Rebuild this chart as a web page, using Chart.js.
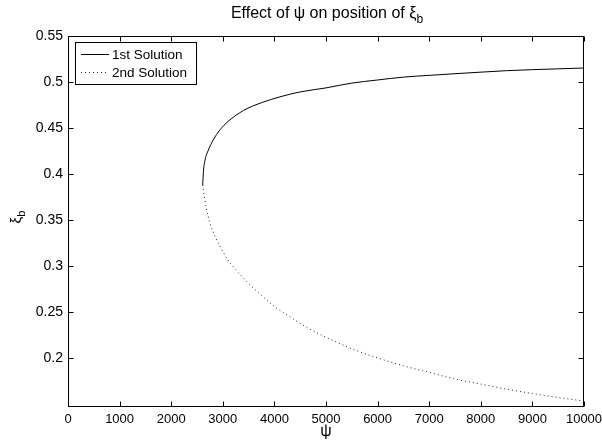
<!DOCTYPE html>
<html>
<head>
<meta charset="utf-8">
<script src="https://cdn.jsdelivr.net/npm/chart.js@4/dist/chart.umd.min.js"></script>
<style>
  body { margin: 0; background: #fff; }
  #wrap { width: 602px; height: 442px; }
</style>
</head>
<body>
<div id="wrap"><canvas id="xiChart" width="602" height="442"></canvas></div>
<script>
// values
const psiFirst = [2610, 2625, 2655, 2720, 2815, 2945, 3100, 3400, 3750, 4150, 4500, 5000, 5500, 6000, 6500, 7000, 7500, 8000, 8500, 9000, 9500, 10000];
const xiFirst = [0.388, 0.403, 0.415, 0.426, 0.437, 0.448, 0.457, 0.469, 0.4775, 0.4845, 0.4892, 0.4936, 0.4988, 0.5022, 0.5053, 0.5072, 0.509, 0.5107, 0.5123, 0.5134, 0.5143, 0.5152];
const psiSecond = [2610, 2623, 2675, 2750, 2860, 2980, 3100, 3250, 3500, 3750, 4000, 4350, 4650, 5000, 5500, 6000, 6500, 7000, 7500, 8000, 8500, 9000, 9500, 10000];
const xiSecond = [0.388, 0.383, 0.3645, 0.347, 0.331, 0.318, 0.3065, 0.296, 0.281, 0.268, 0.256, 0.243, 0.2325, 0.2225, 0.21, 0.2, 0.1915, 0.1843, 0.1771, 0.1716, 0.1661, 0.1613, 0.157, 0.1532];
const xTicks = [0, 1000, 2000, 3000, 4000, 5000, 6000, 7000, 8000, 9000, 10000];
const yTicks = [0.2, 0.25, 0.3, 0.35, 0.4, 0.45, 0.5, 0.55];
const seriesNames = ["1st Solution", "2nd Solution"];

const FONT = "'Liberation Sans', Arial, Helvetica, sans-serif";

function toPoints(xs, ys) {
  return xs.map(function (x, i) { return { x: x, y: ys[i] }; });
}

// text with a subscript tail, centred on x
function drawSub(ctx, main, sub, x, y, size, drop) {
  ctx.font = size + "px " + FONT;
  const w1 = ctx.measureText(main).width;
  ctx.font = Math.round(size * 0.72) + "px " + FONT;
  const w2 = ctx.measureText(sub).width;
  const left = x - (w1 + w2) / 2;
  ctx.textAlign = "left";
  ctx.font = size + "px " + FONT;
  ctx.fillText(main, left, y);
  ctx.font = Math.round(size * 0.72) + "px " + FONT;
  ctx.fillText(sub, left + w1, y + drop);
}

const matlabLook = {
  id: "matlabLook",
  afterDraw: function (chart) {
    const ctx = chart.ctx;
    const a = chart.chartArea;
    const xs = chart.scales.x, ys = chart.scales.y;
    const L = Math.round(a.left) + 0.5, R = Math.round(a.right) - 0.5;
    const T = Math.round(a.top) + 0.5, B = Math.round(a.bottom) - 0.5;
    ctx.save();
    ctx.strokeStyle = "#000";
    ctx.lineWidth = 1;
    ctx.strokeRect(L, T, R - L, B - T);
    // inward ticks on all sides
    ctx.beginPath();
    xTicks.forEach(function (v) {
      const px = Math.round(xs.getPixelForValue(v)) + 0.5;
      ctx.moveTo(px, B); ctx.lineTo(px, B - 5);
      ctx.moveTo(px, T); ctx.lineTo(px, T + 5);
    });
    yTicks.forEach(function (v) {
      const py = Math.round(ys.getPixelForValue(v)) + 0.5;
      ctx.moveTo(L, py); ctx.lineTo(L + 5, py);
      ctx.moveTo(R, py); ctx.lineTo(R - 5, py);
    });
    ctx.stroke();

    ctx.fillStyle = "#000";
    ctx.textBaseline = "alphabetic";
    const cx = (a.left + a.right) / 2;
    // title
    drawSub(ctx, "Effect of ψ on position of ξ", "b", cx + 1, 18, 16, 5);
    // x label
    ctx.font = "16px " + FONT;
    ctx.textAlign = "center";
    ctx.fillText("ψ", cx, 436);
    // y label, rotated
    ctx.save();
    ctx.translate(21, 217);
    ctx.rotate(-Math.PI / 2);
    drawSub(ctx, "ξ", "b", 0, 0, 15, 4);
    ctx.restore();

    // legend box
    const bx = 75.5, by = 42.5, bw = 121, bh = 42;
    ctx.fillStyle = "#fff";
    ctx.fillRect(bx, by, bw, bh);
    ctx.strokeStyle = "#000";
    ctx.strokeRect(bx, by, bw, bh);
    chart.data.datasets.forEach(function (ds, i) {
      const ly = 54.5 + i * 18;
      ctx.beginPath();
      ctx.setLineDash(ds.borderDash || []);
      ctx.lineWidth = ds.borderWidth;
      ctx.strokeStyle = ds.borderColor;
      ctx.moveTo(81, ly); ctx.lineTo(109, ly);
      ctx.stroke();
      ctx.setLineDash([]);
      ctx.fillStyle = "#000";
      ctx.font = "13.5px " + FONT;
      ctx.textAlign = "left";
      ctx.textBaseline = "middle";
      ctx.fillText(ds.label, 112, ly + 1);
    });
    ctx.restore();
  }
};

new Chart(document.getElementById("xiChart").getContext("2d"), {
  type: "line",
  data: {
    datasets: [
      {
        label: seriesNames[0],
        data: toPoints(psiFirst, xiFirst),
        borderColor: "#000",
        borderWidth: 1,
        pointRadius: 0,
        cubicInterpolationMode: "monotone",
        fill: false,
      },
      {
        label: seriesNames[1],
        data: toPoints(psiSecond, xiSecond),
        borderColor: "#222",
        borderWidth: 1,
        borderDash: [1, 3],
        pointRadius: 0,
        cubicInterpolationMode: "monotone",
        fill: false,
      },
    ],
  },
  options: {
    responsive: false,
    animation: false,
    layout: { padding: { left: 0, right: 18, top: 36, bottom: 0 } },
    plugins: {
      legend: { display: false },
      title: { display: false },
      tooltip: { enabled: false },
    },
    scales: {
      x: {
        type: "linear",
        min: 0,
        max: 10000,
        afterBuildTicks: function (s) { s.ticks = xTicks.map(function (v) { return { value: v }; }); },
        afterFit: function (s) { s.height = 35; s.paddingLeft = 0; s.paddingRight = 0; },
        grid: { display: false, drawTicks: false },
        border: { display: false },
        ticks: {
          color: "#000",
          padding: 5,
          maxRotation: 0,
          autoSkip: false,
          font: { family: FONT, size: 13 },
          callback: function (v) { return String(v); },
        },
      },
      y: {
        type: "linear",
        min: 0.1467,
        max: 0.55,
        afterBuildTicks: function (s) { s.ticks = yTicks.map(function (v) { return { value: v }; }); },
        afterFit: function (s) { s.width = 68; s.paddingTop = 0; s.paddingBottom = 0; },
        grid: { display: false, drawTicks: false },
        border: { display: false },
        ticks: {
          color: "#000",
          padding: 5,
          autoSkip: false,
          font: { family: FONT, size: 14 },
          callback: function (v) { return String(+v.toFixed(2)); },
        },
      },
    },
  },
  plugins: [matlabLook],
});
</script>
</body>
</html>
